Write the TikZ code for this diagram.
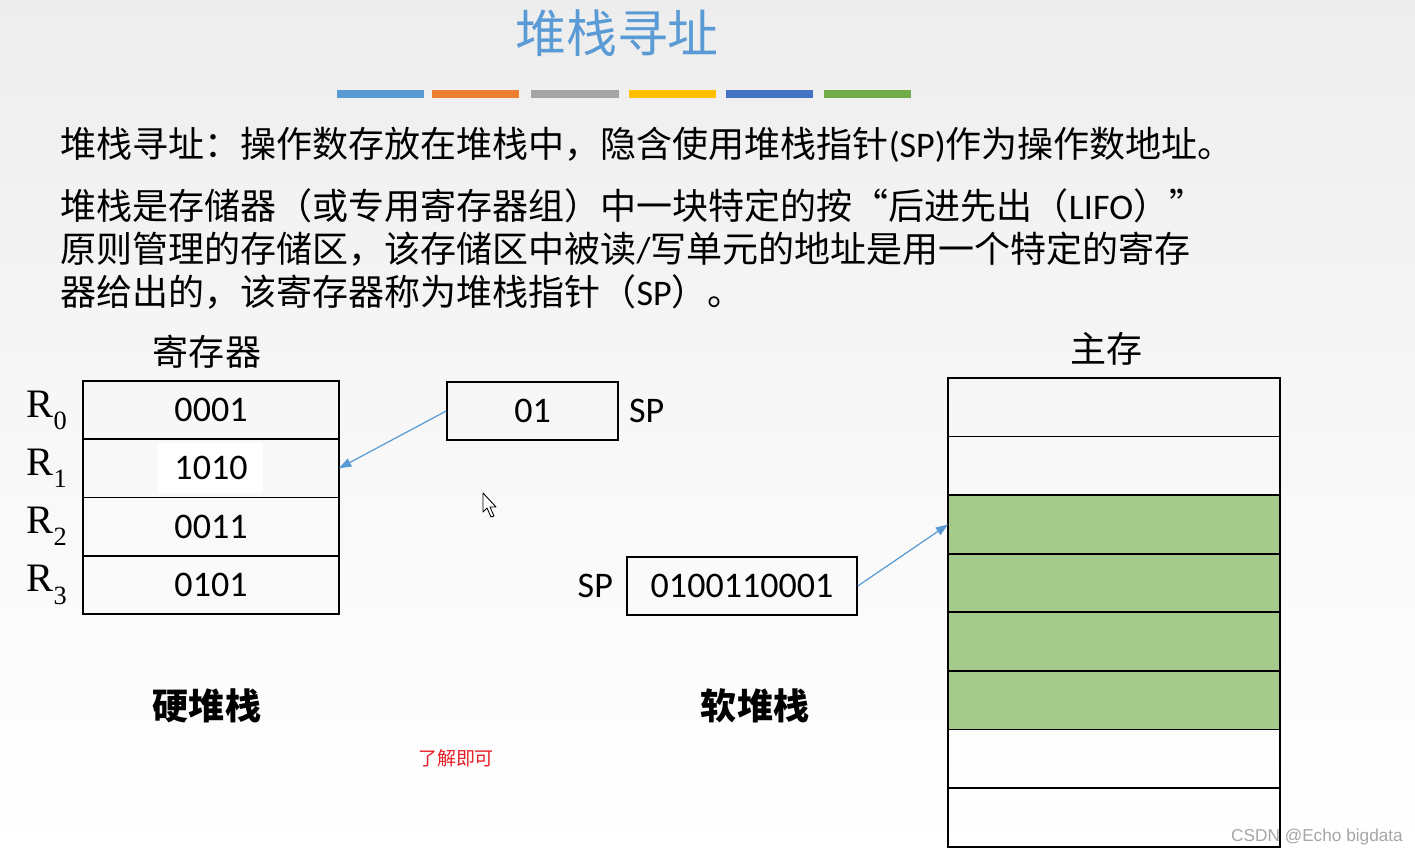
\documentclass[tikz,border=0pt]{standalone}
\usepackage[no-math]{fontspec}
\setmainfont{Noto Sans CJK SC}
\newfontfamily\latinfont{Carlito}
\newfontfamily\regfont{Liberation Serif}
\newfontfamily\markfont{Liberation Sans}
\usetikzlibrary{arrows.meta, positioning}

\definecolor{titleblue}{HTML}{5B9BD5}
\definecolor{barorange}{HTML}{ED7D31}
\definecolor{bargray}{HTML}{A5A5A5}
\definecolor{baryellow}{HTML}{FFC000}
\definecolor{bardarkblue}{HTML}{4472C4}
\definecolor{bargreen}{HTML}{70AD47}
\definecolor{stackgreen}{HTML}{A6CA8C}
\definecolor{linkblue}{HTML}{5B9BD5}
\definecolor{notered}{HTML}{E8202A}

\newcommand{\regname}[1]{{\regfont R\raisebox{-0.3em}{\fontsize{15}{16}\selectfont #1}}}

\begin{document}
\begin{tikzpicture}[x=0.02cm, y=-0.02cm,
  body/.style={anchor=west, inner sep=0pt, font=\fontsize{20.5}{24}\selectfont},
  reg/.style={rectangle, draw, line width=1pt, outer sep=0pt, minimum width=5.12cm, minimum height=1.166cm, inner sep=0pt, font=\latinfont\fontsize{20.5}{24}\selectfont},
  mem/.style={rectangle, draw, line width=1pt, outer sep=0pt, minimum width=6.64cm, minimum height=1.172cm, inner sep=0pt},
  ptr/.style={rectangle, draw, line width=0.9pt, minimum height=1.16cm, inner sep=0pt, font=\latinfont\fontsize{20.5}{24}\selectfont},
  rname/.style={inner sep=0pt, font=\fontsize{23}{26}\selectfont},
  splabel/.style={inner sep=0pt, font=\latinfont\fontsize{20.5}{24}\selectfont},
  link/.style={-{Triangle[length=7pt, width=5pt]}, draw=linkblue, line width=0.7pt},
  bar/.style={line width=4pt}
]
  % background
  \fill[top color=gray!14, bottom color=white, middle color=gray!6] (0,0) rectangle (1415,857);
  \useasboundingbox (0,0) rectangle (1415,857);

  % title and colour bars
  \node[inner sep=0pt, text=titleblue, font=\fontsize{29}{34}\selectfont] (title) at (617,33) {堆栈寻址};
  \draw[bar, titleblue] (337,94) -- (424,94);
  \draw[bar, barorange] (432,94) -- (519,94);
  \draw[bar, bargray] (531,94) -- (619,94);
  \draw[bar, baryellow] (629,94) -- (716,94);
  \draw[bar, bardarkblue] (726,94) -- (813,94);
  \draw[bar, bargreen] (824,94) -- (911,94);

  % text
  \node[body] (def) at (60,145) {堆栈寻址：操作数存放在堆栈中，隐含使用堆栈指针{\latinfont(SP)}作为操作数地址。};
  \node[body] (para1) at (60,206) {堆栈是存储器（或专用寄存器组）中一块特定的按“后进先出（{\latinfont LIFO}）”};
  \node[body] (para2) at (60,249) {原则管理的存储区，该存储区中被读{\latinfont/}写单元的地址是用一个特定的寄存};
  \node[body] (para3) at (60,292) {器给出的，该寄存器称为堆栈指针（{\latinfont SP}）。};

  % hardware stack
  \node[inner sep=0pt, font=\fontsize{20.5}{24}\selectfont] (regtitle) at (207,352) {寄存器};
  \fill[white] (158,443) rectangle (263,493);
  \node[reg] (r0) at (211,410) {0001};
  \node[reg, below=0pt of r0] (r1) {1010};
  \node[reg, below=0pt of r1] (r2) {0011};
  \node[reg, below=0pt of r2] (r3) {0101};
  \foreach \i in {0,...,3}
    \node[rname, left=0.32cm of r\i] (rl\i) {\regname{\i}};

  \node[ptr, minimum width=3.42cm] (sp1) at (532.5,411) {01};
  \node[splabel, right=0.2cm of sp1] (sp1l) {SP};
  \draw[link] (sp1.west) -- (r1.east);

  \node[inner sep=0pt, font=\bfseries\fontsize{20.5}{24}\selectfont] (hard) at (207,706) {硬堆栈};

  % mouse pointer
  \draw[fill=white, line width=0.5pt, line join=round]
    (483,493) -- (483,512) -- (487,508) -- (491,517) -- (494,516) -- (490,507) -- (496,507) -- cycle;

  % software stack
  \node[inner sep=0pt, font=\fontsize{20.5}{24}\selectfont] (memtitle) at (1106,349) {主存};
  \node[mem] (m0) at (1114,407.3) {};
  \node[mem, below=0pt of m0] (m1) {};
  \node[mem, below=0pt of m1, fill=stackgreen] (m2) {};
  \node[mem, below=0pt of m2, fill=stackgreen] (m3) {};
  \node[mem, below=0pt of m3, fill=stackgreen] (m4) {};
  \node[mem, below=0pt of m4, fill=stackgreen] (m5) {};
  \node[mem, below=0pt of m5] (m6) {};
  \node[mem, below=0pt of m6] (m7) {};

  \node[ptr, minimum width=4.6cm] (sp2) at (742,586) {0100110001};
  \node[splabel, left=0.26cm of sp2] (sp2l) {SP};
  \draw[link] (sp2.east) -- (m2.west);

  \node[inner sep=0pt, font=\bfseries\fontsize{20.5}{24}\selectfont] (soft) at (755,706) {软堆栈};

  \node[inner sep=0pt, text=notered, font=\fontsize{10.8}{13}\selectfont] (note) at (456,758) {了解即可};
  \node[inner sep=0pt, text=gray!70, font=\markfont\fontsize{9.8}{12}\selectfont] (mark) at (1317,837) {CSDN @Echo bigdata};
\end{tikzpicture}
\end{document}
